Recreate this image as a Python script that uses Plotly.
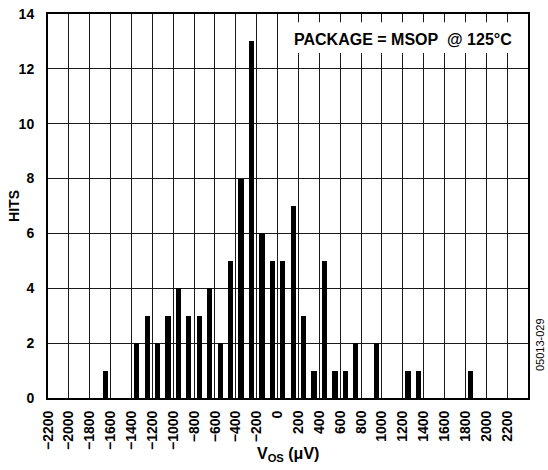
import plotly.graph_objects as go

# Offset voltage bin centres (µV) and number of parts in each bin
bin_centers = [-1650, -1350, -1250, -1150, -1050, -950, -850, -750, -650, -550,
               -450, -350, -250, -150, -50, 50, 150, 250, 350, 450,
               550, 650, 750, 950, 1250, 1350, 1850]
hits = [1, 2, 3, 2, 3, 4, 3, 3, 4, 2,
        5, 8, 13, 6, 5, 5, 7, 3, 1, 5,
        1, 1, 2, 2, 1, 1, 1]

x_ticks = list(range(-2200, 2201, 200))
y_ticks = list(range(0, 15, 2))

FONT = "Liberation Sans, Arial, sans-serif"

fig = go.Figure()
fig.add_trace(go.Bar(
    x=bin_centers, y=hits, width=50,
    marker=dict(color="black", line=dict(width=0)),
    showlegend=False,
))

fig.update_layout(
    width=548, height=470,
    margin=dict(l=48, r=20, t=14, b=72, autoexpand=False),
    paper_bgcolor="white", plot_bgcolor="white",
    font=dict(family=FONT, color="black"),
    bargap=0,
)

fig.update_xaxes(
    range=[-2200, 2400], automargin=False,
    tickmode="array", tickvals=x_ticks,
    tickangle=-90,
    tickfont=dict(family=FONT, size=14, color="black", weight="bold"),
    ticks="", ticklabelstandoff=5,
    showgrid=True, gridcolor="#1a1a1a", gridwidth=1,
    showline=True, linecolor="black", linewidth=2, mirror=True,
    zeroline=False,
)
fig.update_yaxes(
    range=[0, 14], automargin=False,
    tickmode="array", tickvals=y_ticks,
    tickfont=dict(family=FONT, size=14, color="black", weight="bold"),
    ticks="", ticklabelstandoff=9,
    showgrid=True, gridcolor="#1a1a1a", gridwidth=1,
    showline=True, linecolor="black", linewidth=2, mirror=True,
    zeroline=False,
)

# Axis titles
fig.add_annotation(
    x=0.5, y=-0.148, xref="paper", yref="paper",
    xanchor="center", yanchor="middle",
    text="V<sub>OS</sub> (μV)", showarrow=False,
    font=dict(family=FONT, size=16, color="black", weight="bold"),
)
fig.add_annotation(
    x=-0.071, y=0.5, xref="paper", yref="paper",
    xanchor="center", yanchor="middle", textangle=-90,
    text="HITS", showarrow=False,
    font=dict(family=FONT, size=14, color="black", weight="bold"),
)

# White label panel in the upper right corner
fig.add_shape(type="rect", xref="x", yref="y",
              x0=100, x1=2390, y0=12.58, y1=13.7,
              fillcolor="white", line=dict(width=0), layer="above")
fig.add_annotation(
    x=1200, y=13.06, xref="x", yref="y",
    text="PACKAGE = MSOP\u00a0 @ 125°C", showarrow=False,
    font=dict(family=FONT, size=16, color="black", weight="bold"),
)

# Figure reference code on the right margin
fig.add_annotation(
    x=1.025, y=0.138, xref="paper", yref="paper",
    xanchor="center", yanchor="middle",
    text="05013-029", showarrow=False, textangle=-90,
    font=dict(family=FONT, size=11, color="black"),
)

fig.write_html("out.html")
